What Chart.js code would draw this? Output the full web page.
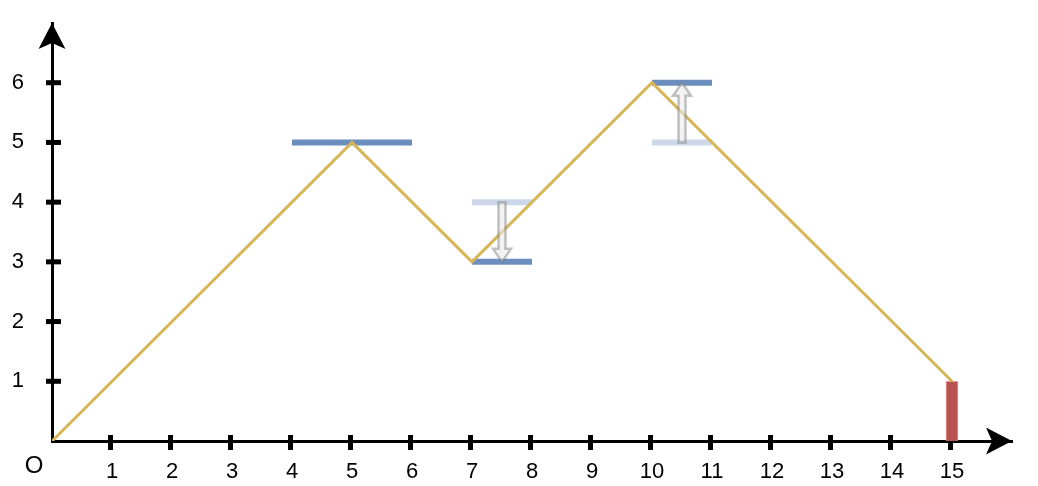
<!DOCTYPE html>
<html>
<head>
<meta charset="utf-8">
<script src="https://cdn.jsdelivr.net/npm/chart.js@4/dist/chart.umd.min.js"></script>
<style>
  html, body { margin: 0; padding: 0; background: #fff; }
  #wrap { position: relative; width: 1038px; height: 486px; }
</style>
</head>
<body>
<div id="wrap"><canvas id="chart" width="1038" height="486"></canvas></div>
<script>
// path of the line
var lineX = [0, 5, 7, 10, 15];
var lineY = [0, 5, 3, 6, 1];

// dark blue levels
var darkStart = [4, 7, 10];
var darkEnd   = [6, 8, 11];
var darkY     = [5, 3, 6];

// faded blue levels
var lightStart = [7, 10];
var lightEnd   = [8, 11];
var lightY     = [4, 5];

// hollow arrows between levels
var arrowX    = [7.5, 10.5];
var arrowFrom = [4, 5];
var arrowTo   = [3, 6];

// red bar
var barX = [15];
var barY = [1];

var xTickLabels = [1, 2, 3, 4, 5, 6, 7, 8, 9, 10, 11, 12, 13, 14, 15];
var yTickLabels = [1, 2, 3, 4, 5, 6];

var GOLD = '#D6B656', BLUE = '#6C8EBF', RED = '#B85450';
var FONT = '"Liberation Sans", Arial, sans-serif';

function segments (starts, ends, ys, color) {
  return starts.map(function (s, i) {
    return {
      type: 'line',
      data: [{x: s, y: ys[i]}, {x: ends[i], y: ys[i]}],
      borderColor: color,
      borderWidth: 6,
      borderCapStyle: 'butt',
      pointRadius: 0,
      order: 3
    }
  })
}

var datasets = []
  .concat(segments(lightStart, lightEnd, lightY, 'rgba(108,142,191,0.35)'))
  .concat(segments(darkStart, darkEnd, darkY, BLUE))
  .concat([{
    type: 'line',
    data: lineX.map(function (x, i) { return {x: x, y: lineY[i]} }),
    borderColor: GOLD,
    borderWidth: 3,
    pointRadius: 0,
    order: 1
  }, {
    type: 'bar',
    data: barX.map(function (x, i) { return {x: x, y: barY[i]} }),
    backgroundColor: RED,
    borderColor: 'rgba(230,140,140,0.9)',
    borderWidth: 1,
    barThickness: 12,
    order: 2
  }]);

var axesPlugin = {
  id: 'axes',
  beforeDatasetsDraw: function (chart) {
    var ctx = chart.ctx, xs = chart.scales.x, ys = chart.scales.y;
    var ox = xs.getPixelForValue(0), oy = ys.getPixelForValue(0);
    ctx.save();
    ctx.fillStyle = '#000';
    xTickLabels.forEach(function (v) {
      var px = xs.getPixelForValue(v) - 1.5;
      ctx.fillRect(px - 2.5, oy - 6, 5, 15);
    });
    yTickLabels.forEach(function (v) {
      var py = ys.getPixelForValue(v);
      ctx.fillRect(ox - 6, py - 2.5, 15, 5);
    });
    // y arrowhead
    var ty = ys.getPixelForValue(ys.max);
    ctx.beginPath();
    ctx.moveTo(ox, ty);
    ctx.lineTo(ox + 13.5, ty + 26);
    ctx.lineTo(ox, ty + 20);
    ctx.lineTo(ox - 13.5, ty + 26);
    ctx.closePath();
    ctx.fill();
    // x arrowhead
    var tx = xs.getPixelForValue(xs.max);
    ctx.beginPath();
    ctx.moveTo(tx, oy);
    ctx.lineTo(tx - 26, oy - 13.5);
    ctx.lineTo(tx - 20, oy);
    ctx.lineTo(tx - 26, oy + 13.5);
    ctx.closePath();
    ctx.fill();
    // origin label
    ctx.font = '24px ' + FONT;
    ctx.textAlign = 'center';
    ctx.textBaseline = 'middle';
    ctx.fillText('O', ox - 18, oy + 25);
    ctx.restore();
  },
  afterDatasetsDraw: function (chart) {
    var ctx = chart.ctx, xs = chart.scales.x, ys = chart.scales.y;
    ctx.save();
    ctx.lineWidth = 2.5;
    ctx.strokeStyle = 'rgba(120,120,120,0.45)';
    ctx.fillStyle = 'rgba(235,235,235,0.6)';
    arrowX.forEach(function (v, i) {
      var cx = xs.getPixelForValue(v);
      var y0 = ys.getPixelForValue(arrowFrom[i]);
      var y1 = ys.getPixelForValue(arrowTo[i]);
      var d = y1 > y0 ? 1 : -1, hy = y1 - d * 13;
      ctx.beginPath();
      ctx.moveTo(cx - 3.5, y0);
      ctx.lineTo(cx - 3.5, hy);
      ctx.lineTo(cx - 9, hy);
      ctx.lineTo(cx, y1);
      ctx.lineTo(cx + 9, hy);
      ctx.lineTo(cx + 3.5, hy);
      ctx.lineTo(cx + 3.5, y0);
      ctx.closePath();
      ctx.fill();
      ctx.stroke();
    });
    ctx.restore();
  }
};

new Chart(document.getElementById('chart'), {
  type: 'line',
  data: { datasets: datasets },
  plugins: [axesPlugin],
  options: {
    responsive: false,
    animation: false,
    devicePixelRatio: 1,
    layout: { padding: { top: 23, right: 26, left: 0, bottom: 0 } },
    plugins: { legend: { display: false }, tooltip: { enabled: false } },
    scales: {
      x: {
        type: 'linear',
        min: 0,
        max: 16,
        offset: false,
        afterFit: function (s) { s.height = 45; s.paddingLeft = 0; s.paddingRight = 0 },
        grid: { display: false, drawTicks: false, offset: false },
        border: { display: true, color: '#000', width: 3 },
        ticks: {
          stepSize: 1,
          autoSkip: false,
          maxRotation: 0,
          padding: 18,
          color: '#000',
          font: { family: FONT, size: 22 },
          callback: function (v) { return xTickLabels.indexOf(v) >= 0 ? String(v) : '' }
        }
      },
      y: {
        type: 'linear',
        min: 0,
        max: 7,
        afterFit: function (s) { s.width = 52; s.paddingTop = 0; s.paddingBottom = 0 },
        grid: { display: false, drawTicks: false },
        border: { display: true, color: '#000', width: 3 },
        ticks: {
          stepSize: 1,
          padding: 28,
          color: '#000',
          font: { family: FONT, size: 22 },
          callback: function (v) { return yTickLabels.indexOf(v) >= 0 ? String(v) : '' }
        }
      }
    }
  }
});
</script>
</body>
</html>
